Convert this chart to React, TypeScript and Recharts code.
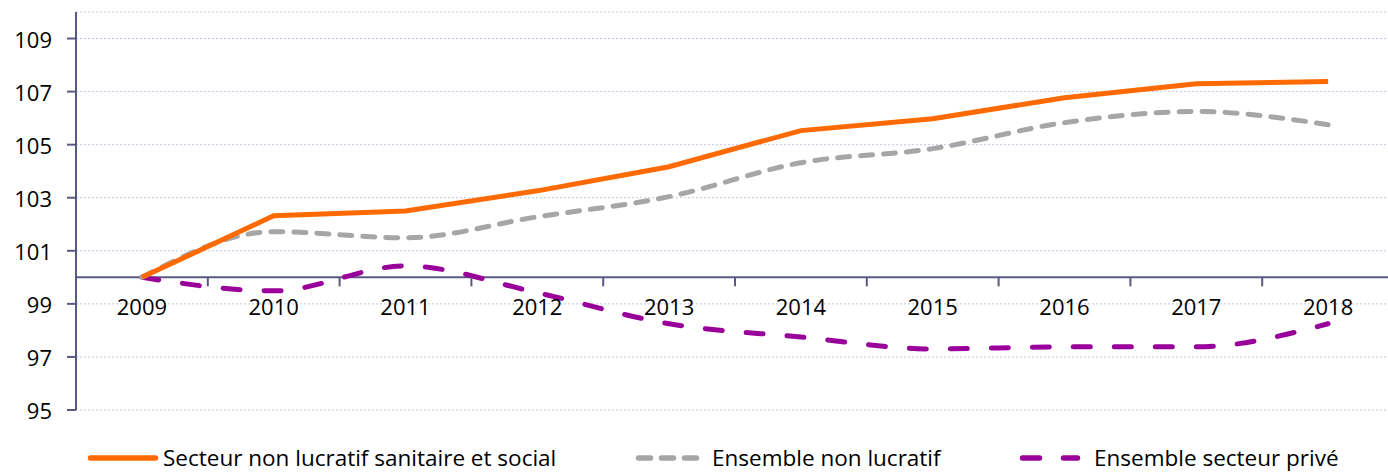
import React from 'react';
import {
  LineChart,
  Line,
  XAxis,
  YAxis,
  CartesianGrid,
  ReferenceLine,
} from 'recharts';

const years = ['2009', '2010', '2011', '2012', '2013', '2014', '2015', '2016', '2017', '2018'];
const sanitaireSocial = [100, 102.32, 102.5, 103.26, 104.17, 105.53, 105.98, 106.77, 107.3, 107.38];
const ensembleNonLucratif = [100, 101.72, 101.49, 102.28, 103.04, 104.32, 104.85, 105.83, 106.25, 105.75];
const ensemblePrive = [100, 99.49, 100.43, 99.42, 98.25, 97.75, 97.3, 97.38, 97.38, 98.25];
const yTicks = [95, 97, 99, 101, 103, 105, 107, 109];

const data = years.map((year, i) => ({
  year,
  sanitaire: sanitaireSocial[i],
  nonLucratif: ensembleNonLucratif[i],
  prive: ensemblePrive[i],
}));

const WIDTH = 1400;
const HEIGHT = 473;
const X_AXIS_HEIGHT = 1;
const MARGIN = { top: 12, right: 6, bottom: 63 - X_AXIS_HEIGHT, left: 16 };
const Y_AXIS_WIDTH = 60;
const Y_MIN = 95;
const Y_MAX = 110;
const AXIS_COLOR = '#595983';
const FONT = '"Open Sans", sans-serif';
const FONT_SIZE = 22;

const plotHeight = HEIGHT - MARGIN.top - MARGIN.bottom - X_AXIS_HEIGHT;
const plotWidth = WIDTH - MARGIN.left - MARGIN.right - Y_AXIS_WIDTH;
const band = plotWidth / years.length;
// y of the horizontal axis (value 100), where the year labels hang
const axisY = MARGIN.top + ((Y_MAX - 100) / (Y_MAX - Y_MIN)) * plotHeight;

const YearTick = (props: any) => {
  const { x, payload, index } = props;
  const left = x - band / 2;
  return (
    <g>
      {index > 0 && (
        <line x1={left} x2={left} y1={axisY} y2={axisY + 9} stroke={AXIS_COLOR} strokeWidth={2} />
      )}
      <text x={x} y={axisY + 38} textAnchor="middle" fontSize={FONT_SIZE} fontFamily={FONT} fill="#000">
        {payload.value}
      </text>
    </g>
  );
};

const ValueTick = (props: any) => {
  const { x, y, payload } = props;
  return (
    <text
      x={x - 13}
      y={y}
      textAnchor="end"
      dominantBaseline="central"
      fontSize={FONT_SIZE}
      fontFamily={FONT}
      fill="#000"
    >
      {payload.value}
    </text>
  );
};

const legendItems = [
  { label: 'Secteur non lucratif sanitaire et social', color: '#ff6a00', dash: undefined, left: 88, w: 70, gap: 5 },
  { label: 'Ensemble non lucratif', color: '#a6a6a6', dash: '12 11', left: 636, w: 64, gap: 12 },
  { label: 'Ensemble secteur privé', color: '#990099', dash: '17 24', left: 1020, w: 60, gap: 14 },
];

function LegendRow() {
  return (
    <div style={{ position: 'absolute', left: 0, top: 446, width: 1388, height: 24 }}>
      {legendItems.map((item) => (
        <div
          key={item.label}
          style={{ position: 'absolute', left: item.left, top: 0, display: 'flex', alignItems: 'center', height: 24 }}
        >
          <svg width={item.w} height={10} style={{ overflow: 'visible' }}>
            <line
              x1={2.5}
              x2={item.w - 2.5}
              y1={5}
              y2={5}
              stroke={item.color}
              strokeWidth={5.5}
              strokeLinecap="round"
              strokeDasharray={item.dash}
            />
          </svg>
          <span
            style={{
              marginLeft: item.gap,
              fontFamily: FONT,
              fontSize: 22.5,
              lineHeight: '24px',
              color: '#000',
              whiteSpace: 'nowrap',
            }}
          >
            {item.label}
          </span>
        </div>
      ))}
    </div>
  );
}

export default function App() {
  return (
    <div style={{ position: 'absolute', left: 0, top: 0, width: 1388, height: 473, overflow: 'hidden', background: '#fff' }}>
      <LineChart width={WIDTH} height={HEIGHT} data={data} margin={MARGIN}>
        <CartesianGrid vertical={false} stroke="#c6c6e0" strokeDasharray="2 2" />
        <XAxis
          dataKey="year"
          height={X_AXIS_HEIGHT}
          padding={{ left: band / 2, right: band / 2 }}
          axisLine={false}
          tickLine={false}
          tick={<YearTick />}
          interval={0}
        />
        <YAxis
          width={Y_AXIS_WIDTH}
          domain={[Y_MIN, Y_MAX]}
          ticks={yTicks}
          allowDataOverflow
          axisLine={{ stroke: AXIS_COLOR, strokeWidth: 2 }}
          tickLine={{ stroke: AXIS_COLOR, strokeWidth: 2 }}
          tickSize={9}
          tick={<ValueTick />}
        />
        <ReferenceLine y={100} stroke={AXIS_COLOR} strokeWidth={2} />
        <Line
          type="monotone"
          dataKey="prive"
          stroke="#990099"
          strokeWidth={5}
          strokeDasharray="17 24"
          strokeLinecap="round"
          dot={false}
          isAnimationActive={false}
        />
        <Line
          type="monotone"
          dataKey="nonLucratif"
          stroke="#a6a6a6"
          strokeWidth={5}
          strokeDasharray="12 11"
          strokeLinecap="round"
          dot={false}
          isAnimationActive={false}
        />
        <Line
          type="linear"
          dataKey="sanitaire"
          stroke="#ff6a00"
          strokeWidth={5}
          dot={false}
          isAnimationActive={false}
        />
      </LineChart>
      <LegendRow />
    </div>
  );
}
